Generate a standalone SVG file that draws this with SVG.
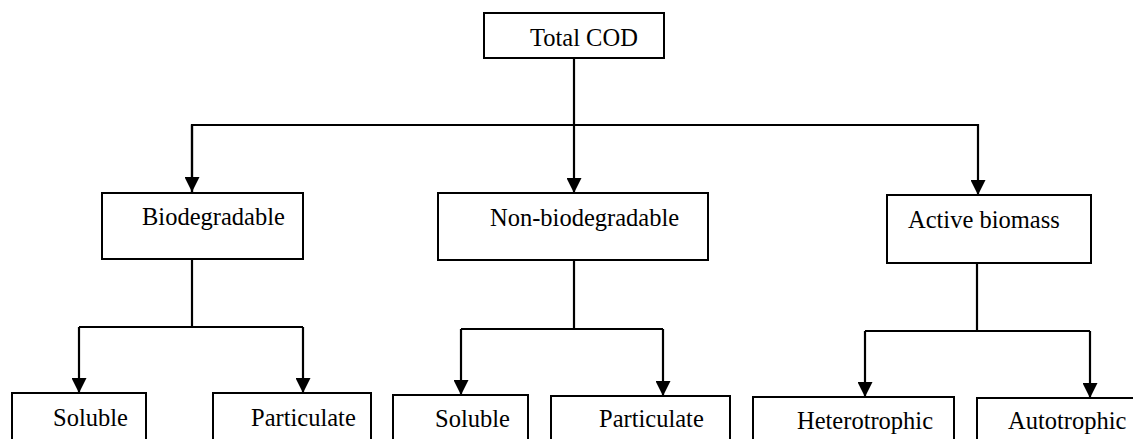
<svg xmlns="http://www.w3.org/2000/svg" width="1133" height="439" viewBox="0 0 1133 439">
  <style>
    .box { fill: #ffffff; stroke: #000000; stroke-width: 2; }
    .lbl { font-family: "Liberation Serif", "Times New Roman", serif; font-size: 24.5px; fill: #000000; }
    .wire { fill: none; stroke: #000000; stroke-width: 2.2; }
  </style>
  <defs>
    <marker id="arrow" markerUnits="userSpaceOnUse" markerWidth="16" markerHeight="15" refX="15" refY="7.5" orient="auto">
      <path d="M0,0 L15,7.5 L0,15 Z" fill="#000000"/>
    </marker>
  </defs>

  <rect width="1133" height="439" fill="#ffffff"/>

  <!-- connectors -->
  <g id="connectors">
    <path class="wire" d="M574,58 V125"/>
    <path class="wire" d="M192,192 V125 H978 V195" marker-end="url(#arrow)"/>
    <path class="wire" d="M192,125 V192" marker-end="url(#arrow)"/>
    <path class="wire" d="M574,125 V193" marker-end="url(#arrow)"/>

    <path class="wire" d="M192,259 V327"/>
    <path class="wire" d="M79,327 H303"/>
    <path class="wire" d="M79,327 V393" marker-end="url(#arrow)"/>
    <path class="wire" d="M303,327 V393" marker-end="url(#arrow)"/>

    <path class="wire" d="M574,260 V329"/>
    <path class="wire" d="M461,329 H663"/>
    <path class="wire" d="M461,329 V395" marker-end="url(#arrow)"/>
    <path class="wire" d="M663,329 V396" marker-end="url(#arrow)"/>

    <path class="wire" d="M977,263 V331"/>
    <path class="wire" d="M865,331 H1090"/>
    <path class="wire" d="M865,331 V397" marker-end="url(#arrow)"/>
    <path class="wire" d="M1090,331 V398" marker-end="url(#arrow)"/>
  </g>

  <!-- top level -->
  <g id="total-cod">
    <rect class="box" x="484" y="13" width="180" height="45"/>
    <text class="lbl" x="530" y="46">Total COD</text>
  </g>

  <!-- second level -->
  <g id="biodegradable">
    <rect class="box" x="102" y="193" width="201" height="66"/>
    <text class="lbl" x="142" y="225">Biodegradable</text>
  </g>
  <g id="non-biodegradable">
    <rect class="box" x="438" y="193" width="270" height="67"/>
    <text class="lbl" x="490" y="226">Non-biodegradable</text>
  </g>
  <g id="active-biomass">
    <rect class="box" x="887" y="195" width="204" height="68"/>
    <text class="lbl" x="908" y="228">Active biomass</text>
  </g>

  <!-- third level -->
  <g id="bio-soluble">
    <rect class="box" x="12" y="393" width="134" height="60"/>
    <text class="lbl" x="53" y="426">Soluble</text>
  </g>
  <g id="bio-particulate">
    <rect class="box" x="213" y="393" width="158" height="60"/>
    <text class="lbl" x="251" y="426">Particulate</text>
  </g>
  <g id="nonbio-soluble">
    <rect class="box" x="393" y="395" width="135" height="60"/>
    <text class="lbl" x="435" y="427">Soluble</text>
  </g>
  <g id="nonbio-particulate">
    <rect class="box" x="551" y="396" width="179" height="60"/>
    <text class="lbl" x="599" y="427">Particulate</text>
  </g>
  <g id="heterotrophic">
    <rect class="box" x="753" y="397" width="201" height="60"/>
    <text class="lbl" x="797" y="429">Heterotrophic</text>
  </g>
  <g id="autotrophic">
    <rect class="box" x="977" y="398" width="180" height="60"/>
    <text class="lbl" x="1008" y="429">Autotrophic</text>
  </g>
</svg>
